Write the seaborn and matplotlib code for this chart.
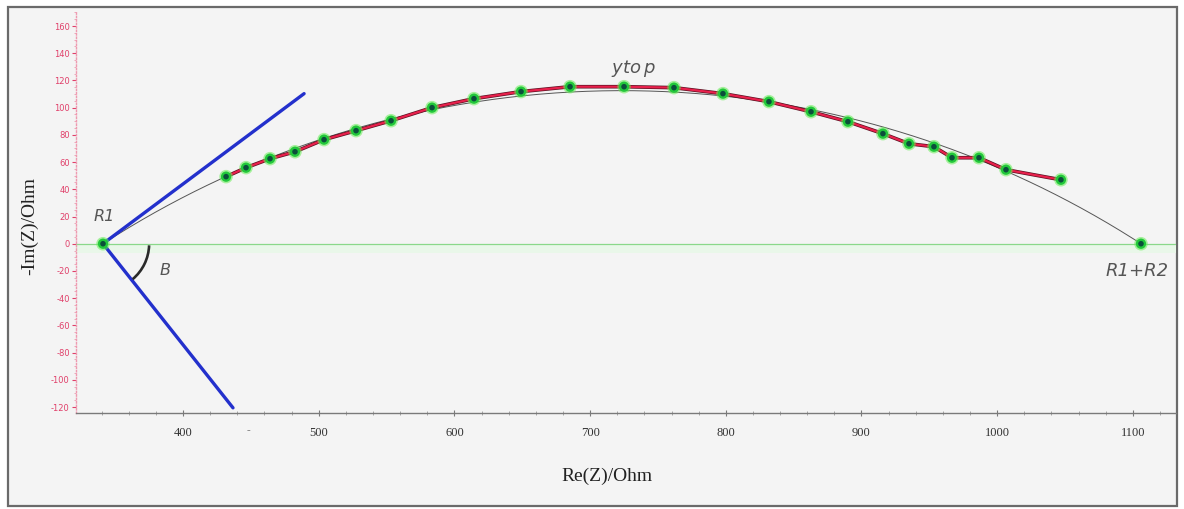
import numpy as np
import pandas as pd
import matplotlib
matplotlib.use("Agg")
import matplotlib.pyplot as plt
import seaborn as sns
from matplotlib.patches import Rectangle, Arc
from matplotlib.ticker import MultipleLocator

# ---- data ----
re_z = [431.7, 446.4, 464.1, 482.5, 503.9, 527.5, 553.3, 583.5, 614.4, 649.1,
        685.2, 725.0, 761.8, 797.9, 831.8, 862.8, 890.0, 915.8, 935.0, 953.4,
        966.7, 986.6, 1006.5, 1047.0]
im_z = [49.3, 55.9, 62.5, 67.6, 76.5, 83.1, 90.4, 100.0, 106.6, 111.8,
        115.4, 115.4, 114.7, 110.3, 104.4, 97.0, 89.7, 80.9, 73.5, 71.3,
        63.2, 63.2, 54.4, 47.0]
R1 = 341.0
R1R2 = 1106.0
ytop = 112.5           # apex of fitted (depressed) semicircle
tangent_up = (489.2, 110.3)
tangent_down = (436.8, -120.6)
y_ticks = list(range(-120, 161, 20))
x_ticks = [400, 500, 600, 700, 800, 900, 1000, 1100]

df = pd.DataFrame({"re": re_z, "im": im_z})

sns.set_theme(style="white")
plt.rcParams['font.family'] = ['DejaVu Sans']

W, H = 1184, 509
fig = plt.figure(figsize=(W / 100, H / 100), dpi=100)
fig.patch.set_facecolor("white")
# outer frame
frame = Rectangle((8 / W, 1 - 506 / H), (1177 - 8) / W, (506 - 7) / H,
                  transform=fig.transFigure, facecolor="#f4f4f4",
                  edgecolor="#6a6a6a", linewidth=1.6, zorder=-10)
fig.patches.append(frame)

ax = fig.add_axes([76 / W, 96 / H, (1176 - 76) / W, (413 - 12) / H])
ax.set_zorder(5)
ax.set_facecolor("none")
ax.set_xlim(321.1, 1131.8)
ax.set_ylim(-124.4, 170.3)

# pale green band and zero line
ax.axhspan(-7, 0, color="#e9f7e9", zorder=0.5, lw=0)
ax.axhline(0, color="#8ad88a", lw=0.9, zorder=1)

# fitted depressed semicircle (circle arc through R1, R1+R2 with apex ytop)
half = (R1R2 - R1) / 2
xc = (R1 + R1R2) / 2
rad = (half ** 2 + ytop ** 2) / (2 * ytop)
yc = ytop - rad
xs = np.linspace(R1, R1R2, 400)
ys = np.sqrt(np.clip(rad ** 2 - (xs - xc) ** 2, 0, None)) + yc
ax.plot(xs, ys, color="#555555", lw=0.7, zorder=2)

# tangent lines
ax.plot([R1, tangent_up[0]], [0, tangent_up[1]], color="#2330cc", lw=2.4,
        solid_capstyle="round", zorder=3)
ax.plot([R1, tangent_down[0]], [0, tangent_down[1]], color="#2330cc", lw=2.4,
        solid_capstyle="round", zorder=3)

# angle arc B
ax.add_patch(Arc((R1, 0), 68, 68, theta1=-50, theta2=-2, color="#2a2a2a",
                 lw=1.9, zorder=3))

# measured data line
sns.lineplot(data=df, x="re", y="im", sort=False, ax=ax, color="#5a1020",
             lw=2.6, zorder=4)
ax.plot(re_z, im_z, color="#e8204c", lw=1.6, zorder=4.1)

# markers (glow + dark centre)
pts = pd.DataFrame({"re": re_z + [R1, R1R2], "im": im_z + [0, 0]})
sns.scatterplot(data=pts, x="re", y="im", ax=ax, s=95, color="#66ee55",
                edgecolor="none", alpha=0.55, zorder=5)
sns.scatterplot(data=pts, x="re", y="im", ax=ax, s=55, color="#22c83a",
                edgecolor="none", zorder=5.5)
sns.scatterplot(data=pts, x="re", y="im", ax=ax, s=16, color="#0b4f3a",
                edgecolor="none", zorder=6)

# annotations
ax.text(R1 + 1, 20, "R1", fontsize=11.5, style="italic", color="#555555",
        ha="center", va="center", zorder=7)
ax.text(387, -20, "B", fontsize=11.5, style="italic", color="#555555",
        ha="center", va="center", zorder=7)
ax.text(732, 129, r"$y t o\,p$", fontsize=13, color="#555555",
        ha="center", va="center", zorder=7)
ax.text(1103, -20, "R1+R2", fontsize=13, style="italic", color="#555555",
        ha="center", va="center", zorder=7, clip_on=False)
ax.text(448, -137, "-", fontsize=8, color="#777777", ha="center", va="center",
        family="Liberation Serif")

# axes styling
for s in ["top", "right"]:
    ax.spines[s].set_visible(False)
ax.spines["left"].set_color("#ee9ab0")
ax.spines["left"].set_linestyle((0, (1, 1.5)))
ax.spines["left"].set_linewidth(1.0)
ax.spines["bottom"].set_color("#7a7a7a")
ax.spines["bottom"].set_linewidth(1.0)

ax.set_yticks(y_ticks)
ax.set_yticklabels([str(v) for v in y_ticks])
ax.set_xticks(x_ticks)
ax.set_xticklabels([str(v) for v in x_ticks])
ax.yaxis.set_minor_locator(MultipleLocator(5))
ax.xaxis.set_minor_locator(MultipleLocator(20))
ax.tick_params(axis="y", which="major", length=3, width=0.8, color="#e0406a",
               labelsize=6, labelcolor="#e0406a", direction="out", left=True, pad=1.5)
ax.tick_params(axis="y", which="minor", length=1.5, width=0.6, color="#ee9ab0",
               direction="out", left=True)
ax.tick_params(axis="x", which="major", length=4, width=0.8, color="#7a7a7a",
               labelsize=9, labelcolor="#333333", direction="inout", bottom=True, pad=8)
ax.tick_params(axis="x", which="minor", length=2.5, width=0.6, color="#9a9a9a",
               direction="inout", bottom=True)
for lab in ax.get_xticklabels():
    lab.set_family("Liberation Serif")

ax.set_xlabel("Re(Z)/Ohm", fontsize=14, family="Liberation Serif", color="#222222",
              va="center")
ax.xaxis.set_label_coords((607 - 76) / 1100, (413 - 476) / 401)
ax.set_ylabel("-Im(Z)/Ohm", fontsize=14, family="Liberation Serif", color="#222222",
              va="center")
ax.yaxis.set_label_coords((30 - 76) / 1100, (413 - 226) / 401)
ax.grid(False)

fig.savefig("out.png", dpi=100, facecolor=fig.get_facecolor())
